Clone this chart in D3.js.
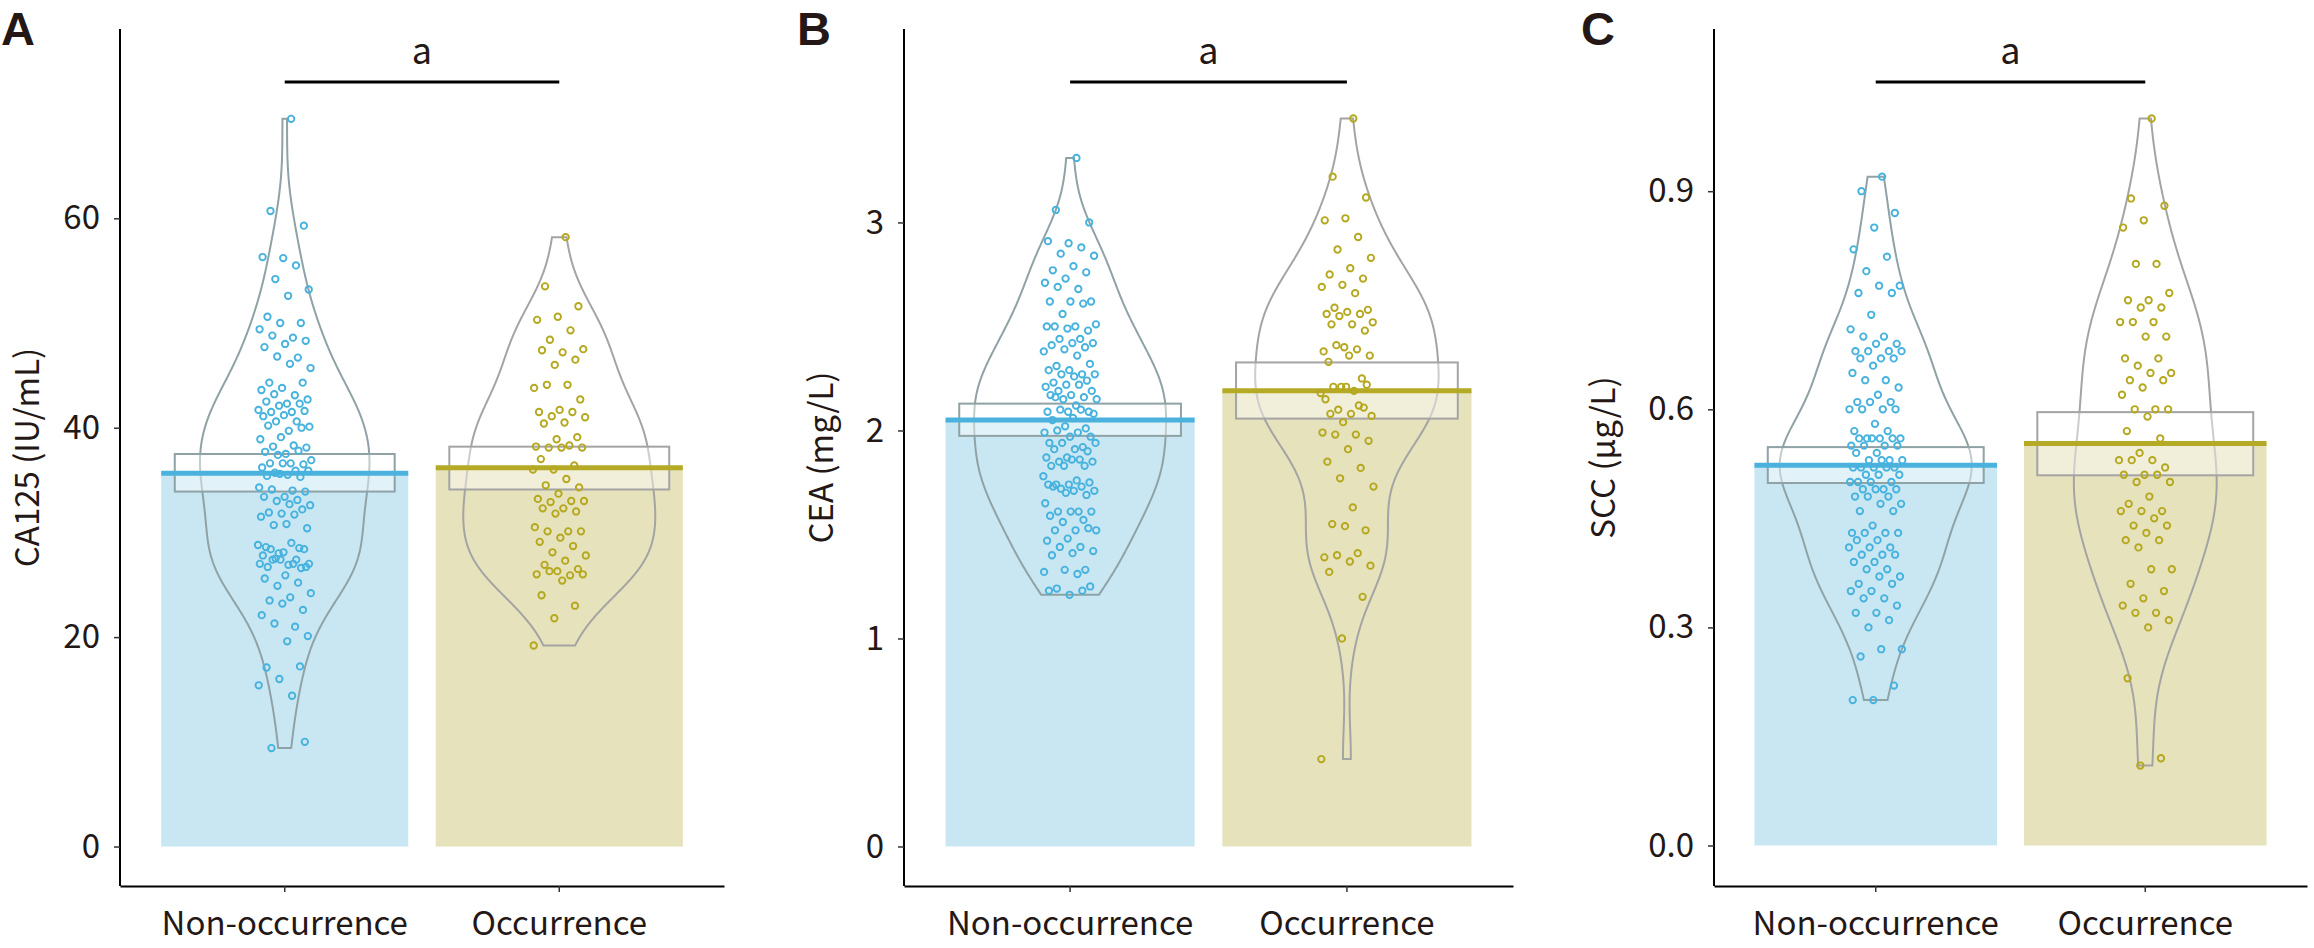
<!DOCTYPE html>
<html>
<head>
<meta charset="utf-8">
<script src="https://cdn.jsdelivr.net/npm/d3@7"></script>
<style>
  html, body { margin: 0; padding: 0; background: #ffffff; }
  svg { display: block; }
  text { font-family: "Noto Sans CJK JP", "Noto Sans", sans-serif; fill: #231815; }
  text.panel-letter { font-family: "Liberation Sans", Arial, sans-serif; font-weight: 700; }
</style>
</head>
<body>
<svg id="chart" width="2314" height="948"></svg>
<script>
// ---------------- DATA ----------------
const categories = ["Non-occurrence", "Occurrence"];
const panelLetters = ["A", "B", "C"];
const yTitles = ["CA125 (IU/mL)", "CEA (mg/L)", "SCC (μg/L)"];
const sigLabels = ["a", "a", "a"];
const yTicksA = [0, 20, 40, 60];
const yTicksB = [0, 1, 2, 3];
const yTicksC = [0.0, 0.3, 0.6, 0.9];

// CA125 (IU/mL)
const ca125Non = [69.5, 60.7, 59.3, 56.2, 56.3, 55.5, 54.2, 53.2, 52.6, 50.6, 50.0, 50.0, 49.4, 48.6, 48.8, 48.3, 48.0, 47.7, 46.7, 46.8,
  45.7, 46.1, 44.3, 44.3, 43.8, 43.6, 43.1, 43.2, 42.7, 42.3, 42.5, 42.3, 42.1, 41.7, 41.5, 41.5, 41.6, 41.2, 41.1, 40.6,
  40.6, 40.1, 39.7, 40.2, 40.0, 39.1, 38.9, 38.3, 38.2, 38.1, 37.5, 37.7, 37.8, 37.4, 36.9, 36.6, 36.6, 36.5, 36.6, 36.2,
  35.9, 35.7, 35.9, 35.5, 35.4, 35.3, 35.6, 34.3, 34.0, 34.1, 33.9, 33.4, 33.4, 33.1, 33.0, 32.6, 32.7, 31.9, 32.2, 31.8,
  31.5, 31.7, 30.7, 30.4, 30.8, 28.6, 28.5, 28.0, 28.8, 29.0, 28.4, 28.4, 28.1, 27.8, 27.4, 27.5, 27.0, 26.9, 26.7, 26.6,
  27.4, 27.0, 27.0, 27.4, 26.7, 25.9, 25.6, 25.2, 24.9, 24.2, 23.8, 23.5, 22.6, 23.2, 22.1, 21.0, 21.3, 20.1, 19.6, 17.1,
  17.2, 16.0, 15.4, 14.4, 9.4, 10.0];
const ca125Occ = [58.2, 53.5, 51.6, 50.6, 50.3, 49.3, 48.4, 47.5, 47.2, 47.4, 46.5, 46.0, 43.8, 44.1, 44.1, 42.7, 41.7, 41.5, 41.5, 41.1,
  41.0, 40.5, 40.4, 39.1, 38.9, 38.2, 38.3, 38.1, 38.1, 38.1, 37.0, 36.4, 36.0, 36.0, 35.1, 34.5, 34.3, 33.7, 33.2, 33.0,
  32.9, 33.0, 32.3, 32.3, 32.0, 31.8, 30.5, 30.1, 30.1, 30.1, 29.5, 29.1, 28.7, 28.1, 27.8, 27.3, 26.9, 26.5, 26.3, 26.0,
  25.9, 26.3, 26.0, 25.4, 24.0, 23.0, 21.8, 19.2];

// CEA (mg/L)
const ceaNon = [3.31, 3.06, 3.00, 2.90, 2.91, 2.88, 2.85, 2.84, 2.79, 2.77, 2.76, 2.73, 2.71, 2.68, 2.69, 2.62, 2.62, 2.62, 2.61, 2.56,
  2.51, 2.50, 2.50, 2.48, 2.49, 2.50, 2.44, 2.44, 2.42, 2.42, 2.41, 2.40, 2.39, 2.38, 2.36, 2.31, 2.32, 2.29, 2.29, 2.27,
  2.27, 2.27, 2.26, 2.23, 2.24, 2.22, 2.21, 2.22, 2.19, 2.19, 2.17, 2.17, 2.16, 2.15, 2.15, 2.12, 2.16, 2.09, 2.09, 2.09,
  2.10, 2.10, 2.08, 2.06, 2.05, 2.01, 2.02, 1.99, 1.99, 2.00, 1.97, 1.97, 1.94, 1.92, 1.94, 1.94, 1.91, 1.91, 1.90, 1.87,
  1.87, 1.86, 1.85, 1.85, 1.86, 1.83, 1.83, 1.83, 1.78, 1.76, 1.74, 1.75, 1.74, 1.74, 1.73, 1.72, 1.71, 1.71, 1.73, 1.69,
  1.70, 1.65, 1.61, 1.61, 1.61, 1.61, 1.59, 1.57, 1.56, 1.52, 1.52, 1.52, 1.53, 1.48, 1.47, 1.44, 1.44, 1.42, 1.41, 1.40,
  1.33, 1.33, 1.32, 1.31, 1.24, 1.25, 1.21, 1.23, 1.23];
const ceaOcc = [3.50, 3.22, 3.12, 3.02, 3.01, 2.93, 2.87, 2.83, 2.78, 2.75, 2.73, 2.70, 2.69, 2.66, 2.59, 2.58, 2.57, 2.56, 2.56, 2.55,
  2.52, 2.51, 2.51, 2.48, 2.40, 2.38, 2.39, 2.41, 2.36, 2.36, 2.33, 2.25, 2.21, 2.18, 2.19, 2.21, 2.22, 2.21, 2.15, 2.12,
  2.10, 2.07, 2.08, 2.08, 2.11, 2.04, 1.99, 1.98, 1.98, 1.95, 1.91, 1.85, 1.82, 1.77, 1.73, 1.63, 1.55, 1.52, 1.54, 1.39,
  1.41, 1.40, 1.35, 1.37, 1.32, 1.20, 1.00, 0.42];

// SCC (μg/L)
const sccNon = [0.92, 0.90, 0.87, 0.85, 0.82, 0.81, 0.79, 0.77, 0.77, 0.76, 0.76, 0.73, 0.71, 0.70, 0.70, 0.69, 0.69, 0.68, 0.68, 0.68,
  0.68, 0.67, 0.67, 0.67, 0.66, 0.65, 0.64, 0.64, 0.63, 0.62, 0.61, 0.61, 0.61, 0.60, 0.60, 0.60, 0.60, 0.58, 0.57, 0.57,
  0.56, 0.56, 0.56, 0.56, 0.56, 0.56, 0.55, 0.55, 0.55, 0.55, 0.54, 0.54, 0.53, 0.53, 0.53, 0.53, 0.52, 0.52, 0.52, 0.52,
  0.52, 0.51, 0.51, 0.51, 0.50, 0.50, 0.50, 0.50, 0.49, 0.49, 0.49, 0.49, 0.48, 0.48, 0.48, 0.47, 0.47, 0.46, 0.46, 0.44,
  0.43, 0.43, 0.43, 0.43, 0.42, 0.42, 0.41, 0.41, 0.41, 0.40, 0.40, 0.40, 0.39, 0.39, 0.38, 0.38, 0.37, 0.37, 0.36, 0.36,
  0.35, 0.35, 0.34, 0.34, 0.33, 0.32, 0.32, 0.31, 0.30, 0.27, 0.27, 0.26, 0.22, 0.20, 0.20];
const sccOcc = [1.00, 0.89, 0.88, 0.86, 0.85, 0.80, 0.80, 0.76, 0.75, 0.75, 0.74, 0.74, 0.72, 0.72, 0.72, 0.70, 0.70, 0.67, 0.67, 0.66,
  0.65, 0.65, 0.64, 0.64, 0.63, 0.62, 0.60, 0.60, 0.60, 0.59, 0.57, 0.56, 0.54, 0.53, 0.53, 0.53, 0.52, 0.51, 0.51, 0.51,
  0.50, 0.50, 0.48, 0.47, 0.46, 0.46, 0.46, 0.45, 0.44, 0.44, 0.43, 0.42, 0.42, 0.41, 0.38, 0.38, 0.36, 0.35, 0.34, 0.33,
  0.32, 0.32, 0.31, 0.30, 0.23, 0.12, 0.11];

// Group averages and inference bands
const meansA = [35.66, 36.18];
const ciLowA = [33.9, 34.1];
const ciHighA = [37.49, 38.19];
const meansB = [2.050, 2.191];
const ciLowB = [1.974, 2.057];
const ciHighB = [2.129, 2.327];
const meansC = [0.523, 0.553];
const ciLowC = [0.4986, 0.5092];
const ciHighC = [0.548, 0.5961];

// ---------------- LAYOUT / STYLE ----------------
const panels = [
  { letter: panelLetters[0], title: yTitles[0], sig: sigLabels[0], groups: [ca125Non, ca125Occ], means: meansA, lo: ciLowA, hi: ciHighA,
    ticks: yTicksA, fmt: d3.format("d"), xl: 120, xr: 724, yDom: [-3.77, 78.08], letterX: 1 },
  { letter: panelLetters[1], title: yTitles[1], sig: sigLabels[1], groups: [ceaNon, ceaOcc], means: meansB, lo: ciLowB, hi: ciHighB,
    ticks: yTicksB, fmt: d3.format("d"), xl: 904, xr: 1513, yDom: [-0.19, 3.93], letterX: 797 },
  { letter: panelLetters[2], title: yTitles[2], sig: sigLabels[2], groups: [sccNon, sccOcc], means: meansC, lo: ciLowC, hi: ciHighC,
    ticks: yTicksC, fmt: d3.format(".1f"), xl: 1714, xr: 2307, yDom: [-0.0557, 1.1231], letterX: 1581 }
];
const yTop = 29, yBottom = 886;
const pointCol = ["#47B2DE", "#B5A81E"];
const barCol = ["#C9E7F3", "#E6E2BC"];
const lineCol = ["#4AB2DC", "#B5AA25"];
const beanCol = ["#8FA2A5", "#A4A4A4"];
const fontSize = 33;

const svg = d3.select("#chart");

function gauss(u) { return Math.exp(-0.5 * u * u) / Math.sqrt(2 * Math.PI); }
function kde(values) {
  const s = values.slice().sort(d3.ascending);
  const n = s.length;
  const sd = d3.deviation(s);
  const iqr = d3.quantile(s, 0.75) - d3.quantile(s, 0.25);
  const bw = 0.9 * Math.min(sd, iqr / 1.34) * Math.pow(n, -0.2);
  const lo = s[0], hi = s[n - 1];
  return d3.range(0, 301).map(i => {
    const v = lo + (hi - lo) * i / 300;
    return [v, d3.mean(s, x => gauss((v - x) / bw)) / bw];
  });
}

panels.forEach(p => {
  const g = svg.append("g");
  const x = d3.scaleBand().domain(categories).range([p.xl, p.xr]).paddingInner(0.1).paddingOuter(0.15);
  const y = d3.scaleLinear().domain(p.yDom).range([yBottom, yTop]);
  const bw = x.bandwidth();

  // bars
  g.selectAll(".bar").data(categories).join("rect")
    .attr("x", d => x(d)).attr("width", bw)
    .attr("y", (d, i) => y(p.means[i])).attr("height", (d, i) => y(0) - y(p.means[i]))
    .attr("fill", (d, i) => barCol[i]);

  // beans (violins)
  const dens = p.groups.map(kde);
  const maxD = d3.max(dens, ds => d3.max(ds, d => d[1]));
  const wScale = d3.scaleLinear().domain([0, maxD]).range([0, 96]);
  dens.forEach((ds, i) => {
    const cx = x(categories[i]) + bw / 2;
    const area = d3.area()
      .y(d => y(d[0]))
      .x0(d => cx - wScale(d[1]))
      .x1(d => cx + wScale(d[1]));
    g.append("path").attr("d", area(ds))
      .attr("fill", "none").attr("stroke", beanCol[i]).attr("stroke-width", 2);
  });

  // inference bands
  g.selectAll(".inf").data(categories).join("rect")
    .attr("x", d => x(d) + bw * 0.055).attr("width", bw * 0.89)
    .attr("y", (d, i) => y(p.hi[i])).attr("height", (d, i) => y(p.lo[i]) - y(p.hi[i]))
    .attr("fill", "rgba(255,255,255,0.45)").attr("stroke", (d, i) => beanCol[i]).attr("stroke-width", 2);

  // mean lines
  g.selectAll(".mean").data(categories).join("line")
    .attr("x1", d => x(d)).attr("x2", d => x(d) + bw)
    .attr("y1", (d, i) => y(p.means[i])).attr("y2", (d, i) => y(p.means[i]))
    .attr("stroke", (d, i) => lineCol[i]).attr("stroke-width", 5);

  // points (deterministic jitter)
  p.groups.forEach((vals, i) => {
    const cx = x(categories[i]) + bw / 2;
    g.append("g").selectAll("circle").data(vals).join("circle")
      .attr("cx", (d, k) => cx + (((k + 1) * 0.6180339887) % 1 - 0.5) * 54)
      .attr("cy", d => y(d))
      .attr("r", 3.2)
      .attr("fill", "none").attr("stroke", pointCol[i]).attr("stroke-width", 1.9);
  });

  // axes
  const yAxis = g.append("g").attr("transform", `translate(${p.xl},0)`)
    .call(d3.axisLeft(y).tickValues(p.ticks).tickFormat(p.fmt).tickSize(6).tickSizeOuter(0).tickPadding(14));
  const xAxis = g.append("g").attr("transform", `translate(0,${yBottom})`)
    .call(d3.axisBottom(x).tickSize(6).tickSizeOuter(0).tickPadding(19.5));
  [yAxis, xAxis].forEach(a => {
    a.select(".domain").attr("stroke", "#000").attr("stroke-width", 2);
    a.selectAll(".tick line").attr("stroke", "#333").attr("stroke-width", 1.5);
    a.selectAll(".tick text").attr("font-size", fontSize).attr("fill", "#231815");
  });
  yAxis.select(".domain").attr("d", `M0,${yBottom}V${yTop}`);

  // y title positioned from tick label extent
  let minLeft = Infinity;
  yAxis.selectAll(".tick text").each(function () {
    const b = this.getBBox();
    minLeft = Math.min(minLeft, p.xl + b.x);
  });
  const ty = (yTop + yBottom) / 2;
  const title = g.append("text").attr("text-anchor", "middle").attr("font-size", fontSize).text(p.title);
  const tb = title.node().getBBox();
  const tx = Math.max(minLeft - 33, 1 - tb.y);
  title.attr("transform", `translate(${tx},${ty}) rotate(-90)`);

  // significance bar
  const c1 = x(categories[0]) + bw / 2, c2 = x(categories[1]) + bw / 2;
  g.append("line").attr("x1", c1).attr("x2", c2).attr("y1", 82).attr("y2", 82)
    .attr("stroke", "#000").attr("stroke-width", 3);
  g.append("text").attr("x", (c1 + c2) / 2).attr("y", 64).attr("text-anchor", "middle")
    .attr("font-size", 36).text(p.sig);

  // panel letter
  g.append("text").attr("class", "panel-letter")
    .attr("x", p.letterX).attr("y", 45).attr("font-size", 47).text(p.letter);
});
</script>
</body>
</html>
